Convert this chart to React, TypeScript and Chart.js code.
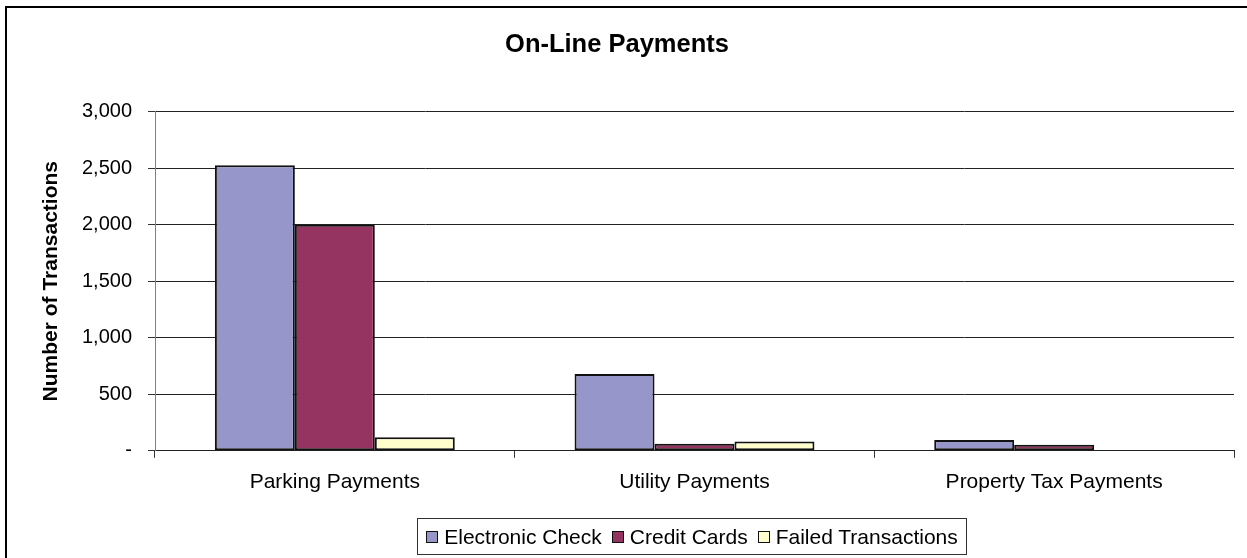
import React, { useEffect, useRef } from 'react';
import { Chart, registerables } from 'chart.js';

Chart.register(...registerables);

const categories = ['Parking Payments', 'Utility Payments', 'Property Tax Payments'];
const seriesNames = ['Electronic Check', 'Credit Cards', 'Failed Transactions'];
const electronicCheck = [2525, 680, 95];
const creditCards = [2000, 62, 53];
const failedTransactions = [120, 82, 0];
const seriesColors = ['#9696CA', '#953461', '#FFFDCC'];
const yTicks = [0, 500, 1000, 1500, 2000, 2500, 3000];

const FONT = "'Liberation Sans', Arial, sans-serif";

const framePlugin = {
  id: 'frame',
  beforeDraw(chart: any) {
    const ctx = chart.ctx;
    ctx.save();
    ctx.fillStyle = '#ffffff';
    ctx.fillRect(0, 0, chart.width, chart.height);
    ctx.restore();
  },
  afterDraw(chart: any) {
    const ctx = chart.ctx;
    ctx.save();
    ctx.fillStyle = '#000000';
    ctx.fillRect(5, 6, chart.width, 2);
    ctx.fillRect(5, 6, 2, chart.height);
    ctx.restore();
  },
};

export default function App() {
  const canvasRef = useRef<HTMLCanvasElement | null>(null);

  useEffect(() => {
    if (!canvasRef.current) return;
    const allSeries = [electronicCheck, creditCards, failedTransactions];
    const chart = new Chart(canvasRef.current, {
      type: 'bar',
      data: {
        labels: categories,
        datasets: seriesNames.map((name, i) => ({
          label: name,
          data: allSeries[i],
          backgroundColor: seriesColors[i],
          borderColor: '#111',
          borderWidth: 2,
          borderSkipped: false,
          barPercentage: 1,
          categoryPercentage: 0.667,
        })),
      },
      options: {
        responsive: false,
        animation: false,
        devicePixelRatio: 1,
        layout: { padding: { left: 0, right: 13, top: 0, bottom: 51 } },
        font: { family: FONT },
        plugins: {
          legend: { display: false },
          tooltip: { enabled: false },
          title: {
            display: true,
            text: 'On-Line Payments',
            color: '#000',
            font: { family: FONT, size: 25.5, weight: 'bold' },
            padding: { top: 30, bottom: 51 },
          },
        },
        scales: {
          x: {
            grid: {
              offset: true,
              drawOnChartArea: false,
              drawTicks: true,
              tickLength: 7,
              tickColor: '#333',
            },
            border: { color: '#222', width: 1 },
            ticks: {
              color: '#000',
              font: { family: FONT, size: 21 },
              padding: 12,
              maxRotation: 0,
            },
          },
          y: {
            min: 0,
            max: 3000,
            afterBuildTicks: (scale: any) => {
              scale.ticks = yTicks.map((v) => ({ value: v }));
            },
            afterFit: (scale: any) => {
              scale.width = 155;
            },
            grid: {
              color: '#222',
              tickColor: '#333',
              tickLength: 7,
              drawTicks: true,
            },
            border: { color: '#808080', width: 1 },
            ticks: {
              color: '#000',
              font: { family: FONT, size: 20 },
              padding: 16,
              callback: (v: any) => (Number(v) === 0 ? '-' : Number(v).toLocaleString('en-US')),
            },
            title: {
              display: true,
              text: 'Number of Transactions',
              color: '#000',
              font: { family: FONT, size: 21, weight: 'bold' },
              padding: { top: 39, bottom: 0 },
            },
          },
        },
      },
      plugins: [framePlugin],
    });
    return () => chart.destroy();
  }, []);

  return (
    <div style={{ position: 'fixed', left: 0, top: 0, width: 1247, height: 558, background: '#fff' }}>
      <canvas ref={canvasRef} width={1247} height={558} style={{ display: 'block' }} />
      <div
        style={{
          position: 'absolute',
          left: 417,
          top: 518,
          width: 550,
          height: 37,
          boxSizing: 'border-box',
          border: '1px solid #333',
          display: 'flex',
          alignItems: 'center',
          justifyContent: 'center',
          gap: 10,
          fontFamily: FONT,
          fontSize: 21,
          color: '#000',
          whiteSpace: 'nowrap',
        }}
      >
        {seriesNames.map((name, i) => (
          <div key={name} style={{ display: 'flex', alignItems: 'center' }}>
            <span
              style={{
                display: 'inline-block',
                width: 12,
                height: 12,
                boxSizing: 'border-box',
                border: '1.5px solid #111',
                background: seriesColors[i],
                marginRight: 6,
              }}
            />
            <span>{name}</span>
          </div>
        ))}
      </div>
    </div>
  );
}
